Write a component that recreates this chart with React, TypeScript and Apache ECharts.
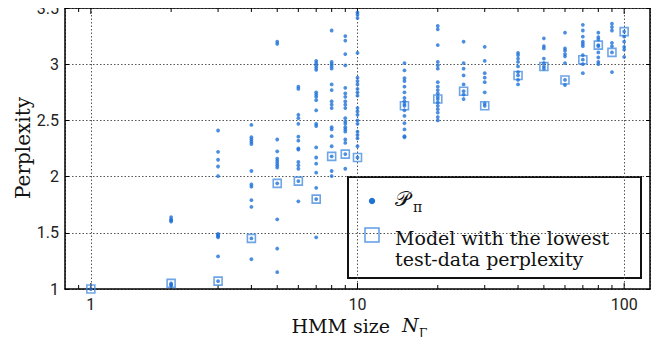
import React, { useEffect, useRef } from "react";
import * as echarts from "echarts";

const hmmSizes = [1, 2, 3, 4, 5, 6, 7, 8, 9, 10, 15, 20, 25, 30, 40, 50, 60, 70, 80, 90, 100];

const runs1 = [1.0];
const runs2 = [1.64, 1.62, 1.61, 1.6, 1.05, 1.04, 1.03];
const runs3 = [2.41, 2.22, 2.15, 2.09, 2.005, 1.49, 1.48, 1.47, 1.46, 1.29, 1.07];
const runs4 = [2.46, 2.35, 2.33, 2.31, 2.29, 2.05, 1.93, 1.91, 1.79, 1.73, 1.45, 1.265];
const runs5 = [3.2, 3.18, 2.33, 2.225, 2.16, 2.14, 2.12, 2.1, 2.08, 1.94, 1.62, 1.36, 1.15];
const runs6 = [2.8, 2.78, 2.55, 2.52, 2.47, 2.355, 2.32, 2.25, 2.24, 2.13, 2.1, 2.07, 1.96, 1.78];
const runs7 = [3.03, 3.01, 2.99, 2.97, 2.95, 2.75, 2.73, 2.71, 2.68, 2.59, 2.47, 2.45, 2.26, 2.17, 2.115, 2.035, 1.9, 1.8, 1.46];
const runs8 = [3.3, 3.02, 3.0, 2.98, 2.96, 2.82, 2.77, 2.67, 2.64, 2.61, 2.44, 2.42, 2.36, 2.27, 2.18, 2.05, 2.005];
const runs9 = [3.25, 3.21, 3.09, 2.99, 2.79, 2.74, 2.71, 2.67, 2.64, 2.61, 2.52, 2.49, 2.47, 2.44, 2.42, 2.4, 2.33, 2.3, 2.2, 2.07];
const runs10 = [3.46, 3.44, 3.41, 3.1, 2.88, 2.85, 2.82, 2.78, 2.75, 2.72, 2.61, 2.58, 2.55, 2.5, 2.47, 2.4, 2.37, 2.34, 2.27, 2.17];
const runs15 = [3.01, 2.945, 2.875, 2.85, 2.8, 2.75, 2.7, 2.67, 2.645, 2.63, 2.59, 2.54, 2.475, 2.42, 2.36, 2.35];
const runs20 = [3.34, 3.31, 3.17, 3.02, 2.99, 2.96, 2.84, 2.8, 2.77, 2.74, 2.71, 2.69, 2.66, 2.63, 2.6, 2.57, 2.53, 2.5];
const runs25 = [3.2, 3.01, 2.96, 2.9, 2.82, 2.76, 2.73, 2.69];
const runs30 = [3.155, 3.03, 2.92, 2.88, 2.84, 2.75, 2.65, 2.63];
const runs40 = [3.1, 3.08, 3.05, 3.02, 2.98, 2.93, 2.9, 2.86, 2.82];
const runs50 = [3.23, 3.16, 3.14, 3.05, 3.01, 2.98, 2.96];
const runs60 = [3.28, 3.14, 3.12, 3.09, 3.07, 3.01, 2.86, 2.815];
const runs70 = [3.35, 3.3, 3.245, 3.2, 3.18, 3.16, 3.08, 3.04, 3.0, 2.92];
const runs80 = [3.28, 3.24, 3.22, 3.17, 3.16, 3.105, 3.06, 3.02, 3.0];
const runs90 = [3.36, 3.33, 3.3, 3.19, 3.16, 3.105, 2.93];
const runs100 = [3.29, 3.245, 3.2, 3.155, 3.13, 3.065];

const bestPerplexity = [1.0, 1.05, 1.07, 1.45, 1.94, 1.96, 1.8, 2.18, 2.2, 2.17, 2.63, 2.69, 2.76, 2.63, 2.9, 2.98, 2.86, 3.04, 3.17, 3.105, 3.29];

const xTickPositions = [0.9, 1, 2, 3, 4, 5, 6, 7, 8, 9, 10, 20, 30, 40, 50, 60, 70, 80, 90, 100];
const xLabelValues = [1, 10, 100];
const yTickLabels = ["1", "1.5", "2", "2.5", "3", "3.5"];

const allRuns = [runs1, runs2, runs3, runs4, runs5, runs6, runs7, runs8, runs9, runs10, runs15, runs20, runs25, runs30, runs40, runs50, runs60, runs70, runs80, runs90, runs100];

const DOT = "#1f72d8";
const SQ = "#4a8fe0";
const SERIF = "'DejaVu Serif', 'Liberation Serif', serif";
const SANS = "Roboto, 'Noto Sans', sans-serif";

export default function App() {
  const ref = useRef<HTMLDivElement>(null);
  useEffect(() => {
    if (!ref.current) return;
    const chart = echarts.init(ref.current, null, { renderer: "svg" });
    const dots: number[][] = [];
    hmmSizes.forEach((s, i) => allRuns[i].forEach((v) => dots.push([s, v])));
    const best = hmmSizes.map((s, i) => [s, bestPerplexity[i]]);

    const splitStyle = { show: true, lineStyle: { color: "#555", type: [1.5, 2], width: 1 } };

    chart.setOption({
      animation: false,
      grid: { left: 65, top: 8, right: 18, bottom: 56, show: false },
      xAxis: [
        {
          type: "log",
          logBase: 10,
          min: 0.8,
          max: 125,
          axisLine: { show: true, lineStyle: { color: "#000", width: 1.5 } },
          axisTick: { show: false },
          axisLabel: {
            color: "#222",
            fontFamily: SANS,
            fontSize: 16,
            margin: 7,
            showMinLabel: false,
            showMaxLabel: false,
            formatter: (v: number) => {
              const r = Math.round(v * 1000) / 1000;
              return xLabelValues.includes(r) ? String(r) : "";
            },
          },
          splitLine: splitStyle,
        },
        {
          type: "log",
          logBase: 10,
          min: 0.8,
          max: 125,
          position: "top",
          axisLine: { show: true, lineStyle: { color: "#000", width: 1.5 } },
          axisTick: { show: false },
          axisLabel: { show: false },
          splitLine: { show: false },
        },
      ],
      yAxis: [
        {
          type: "value",
          min: 1,
          max: 3.5,
          interval: 0.5,
          axisLine: { show: true, lineStyle: { color: "#000", width: 1.5 } },
          axisTick: { show: true, inside: true, length: 4, lineStyle: { color: "#000" } },
          axisLabel: {
            color: "#222",
            fontFamily: SANS,
            fontSize: 16,
            margin: 6,
            formatter: (v: number) => {
              const s = String(Math.round(v * 10) / 10);
              return yTickLabels.includes(s) ? s : "";
            },
          },
          splitLine: splitStyle,
        },
        {
          type: "value",
          min: 1,
          max: 3.5,
          interval: 0.5,
          position: "right",
          axisLine: { show: true, lineStyle: { color: "#000", width: 1.5 } },
          axisTick: { show: true, inside: true, length: 4, lineStyle: { color: "#000" } },
          axisLabel: { show: false },
          splitLine: { show: false },
        },
      ],
      series: [
        {
          type: "custom",
          xAxisIndex: 0,
          yAxisIndex: 0,
          silent: true,
          clip: false,
          data: xTickPositions.map((x) => [x, xLabelValues.includes(x) ? 6 : 4]),
          renderItem: (params: any, api: any) => {
            const x = api.value(0);
            const len = api.value(1);
            const b = api.coord([x, 1]);
            const t = api.coord([x, 3.5]);
            return {
              type: "group",
              children: [
                { type: "line", shape: { x1: b[0], y1: b[1], x2: b[0], y2: b[1] - len }, style: { stroke: "#000", lineWidth: 1 } },
                { type: "line", shape: { x1: t[0], y1: t[1], x2: t[0], y2: t[1] + len }, style: { stroke: "#000", lineWidth: 1 } },
              ],
            };
          },
        },
        {
          type: "scatter",
          name: "best",
          data: best,
          symbol: "rect",
          symbolSize: 8,
          itemStyle: { color: "rgba(255,255,255,0)", borderColor: SQ, borderWidth: 1.6 },
          z: 3,
        },
        {
          type: "scatter",
          name: "P",
          data: dots,
          symbol: "circle",
          symbolSize: 3.8,
          itemStyle: { color: DOT },
          z: 4,
        },
      ],
      graphic: [
        {
          type: "text",
          x: 23,
          y: 148,
          rotation: Math.PI / 2,
          style: { text: "Perplexity", fontFamily: SERIF, fontSize: 20, fill: "#111", align: "center", verticalAlign: "middle" },
        },
        {
          type: "text",
          x: 390,
          y: 326,
          style: { text: "HMM size", fontFamily: SERIF, fontSize: 19, fill: "#111", align: "right", verticalAlign: "middle" },
        },
        {
          type: "text",
          x: 402,
          y: 325,
          style: { text: "N", fontFamily: SERIF, fontStyle: "italic", fontSize: 19, fill: "#111", align: "left", verticalAlign: "middle" },
        },
        {
          type: "text",
          x: 419,
          y: 334,
          style: { text: "Γ", fontFamily: SERIF, fontSize: 12, fill: "#111", align: "left", verticalAlign: "middle" },
        },
        {
          type: "group",
          z: 100,
          children: [
            {
              type: "rect",
              shape: { x: 348, y: 177, width: 293, height: 101 },
              style: { fill: "#fff", stroke: "#111", lineWidth: 2 },
            },
            { type: "circle", shape: { cx: 372, cy: 201, r: 3.2 }, style: { fill: DOT } },
            {
              type: "rect",
              shape: { x: 365, y: 228, width: 14, height: 14 },
              style: { fill: "none", stroke: "#5d9de6", lineWidth: 1.5 },
            },
            {
              type: "text",
              x: 395,
              y: 199,
              style: { text: "𝒫", fontFamily: SERIF, fontSize: 21, fill: "#111", align: "left", verticalAlign: "middle" },
            },
            {
              type: "text",
              x: 413,
              y: 207,
              style: { text: "π", fontFamily: SERIF, fontSize: 14, fill: "#111", align: "left", verticalAlign: "middle" },
            },
            {
              type: "text",
              x: 395,
              y: 227,
              style: {
                text: "Model with the lowest\ntest-data perplexity",
                fontFamily: SERIF,
                fontSize: 19,
                lineHeight: 21,
                fill: "#111",
                align: "left",
                verticalAlign: "top",
              },
            },
          ],
        },
      ],
    });
    return () => chart.dispose();
  }, []);
  return <div ref={ref} style={{ width: 668, height: 345, margin: -8 }} />;
}
